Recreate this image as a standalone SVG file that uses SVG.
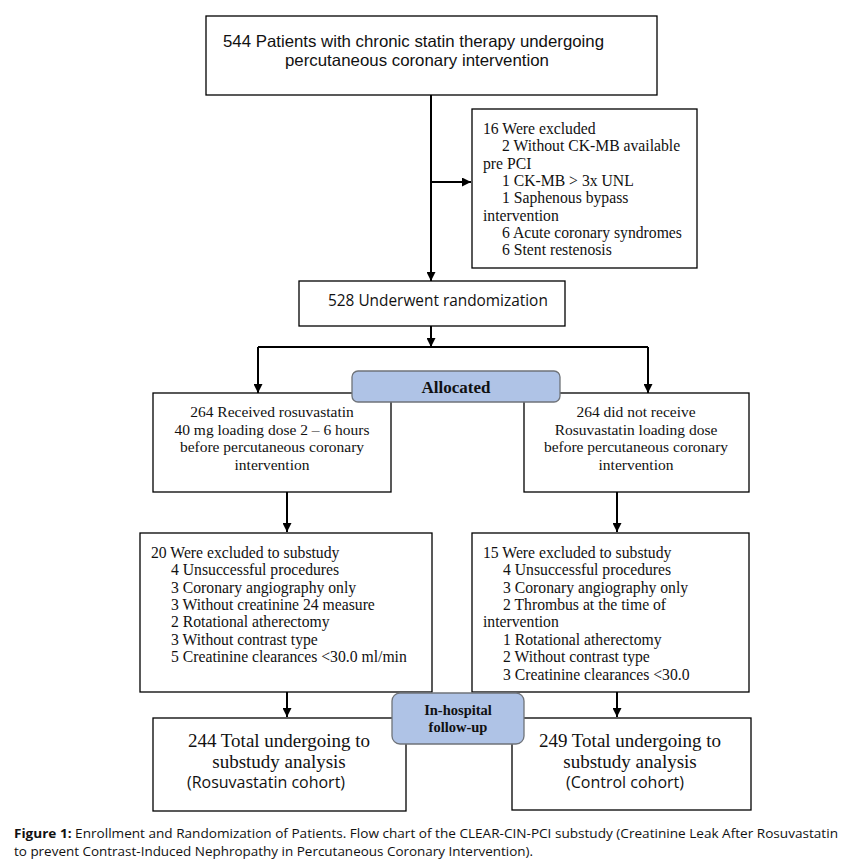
<svg xmlns="http://www.w3.org/2000/svg" width="851" height="863" viewBox="0 0 851 863">
<style>
.box{fill:#fff;stroke:#000;stroke-width:1.3}
.tag{fill:#afc3e6;stroke:#6f7379;stroke-width:1.3}
.ln{fill:none;stroke:#000;stroke-width:2}
.sans{font-family:"Open Sans","Liberation Sans",sans-serif;fill:#111}
.lsans{font-family:"Liberation Sans",Arial,sans-serif;fill:#111}
.serif{font-family:"Liberation Serif","DejaVu Serif",serif;fill:#111}
.b{font-weight:bold}
.cap{font-family:"Open Sans","Liberation Sans",sans-serif;font-size:13px;fill:#111}
</style>
<defs>
<marker id="ah" viewBox="0 0 10 10" refX="10" refY="5" markerWidth="4.5" markerHeight="4.5" orient="auto" markerUnits="strokeWidth">
<path d="M0,0 L10,5 L0,10 z" fill="#000"/>
</marker>
</defs>
<rect width="851" height="863" fill="#fff"/>
<g id="connectors">
<path class="ln" d="M431,95 V281" marker-end="url(#ah)"/>
<path class="ln" d="M431,182 H471" marker-end="url(#ah)"/>
<path class="ln" d="M431,326 V347" marker-end="url(#ah)"/>
<path class="ln" d="M258,347 H648"/>
<path class="ln" d="M258,347 V393" marker-end="url(#ah)"/>
<path class="ln" d="M648,347 V393" marker-end="url(#ah)"/>
<path class="ln" d="M287,492 V532" marker-end="url(#ah)"/>
<path class="ln" d="M617,492 V532" marker-end="url(#ah)"/>
<path class="ln" d="M287,692 V717" marker-end="url(#ah)"/>
<path class="ln" d="M617,692 V717" marker-end="url(#ah)"/>
</g>
<g id="n-enrolled">
<rect class="box" x="206" y="16" width="451" height="79"/>
<text class="lsans" font-size="16.5" x="223" y="47" textLength="381" lengthAdjust="spacingAndGlyphs">544 Patients with chronic statin therapy undergoing</text>
<text class="lsans" font-size="16.5" x="285" y="66" textLength="264" lengthAdjust="spacingAndGlyphs">percutaneous coronary intervention</text>
</g>
<g id="n-excluded" class="serif" font-size="15.7">
<rect class="box" x="472" y="109" width="225" height="159"/>
<text x="483" y="134">16 Were excluded</text>
<text x="502" y="151">2 Without CK-MB available</text>
<text x="483" y="169">pre PCI</text>
<text x="502" y="186">1 CK-MB &gt; 3x UNL</text>
<text x="502" y="203">1 Saphenous bypass</text>
<text x="483" y="221">intervention</text>
<text x="502" y="238">6 Acute coronary syndromes</text>
<text x="502" y="255">6 Stent restenosis</text>
</g>
<g id="n-random">
<rect class="box" x="299" y="281" width="266" height="45"/>
<text class="sans" font-size="15.4" x="328" y="306">528 Underwent randomization</text>
</g>
<g id="n-rosu">
<rect class="box" x="153" y="393" width="238" height="99"/>
<g class="serif" font-size="15.5" text-anchor="middle">
<text x="272" y="417">264 Received rosuvastatin</text>
<text x="272" y="435">40 mg loading dose 2 – 6 hours</text>
<text x="272" y="452">before percutaneous coronary</text>
<text x="272" y="470">intervention</text>
</g>
</g>
<g id="n-control">
<rect class="box" x="524" y="393" width="225" height="99"/>
<g class="serif" font-size="15.5" text-anchor="middle">
<text x="636" y="417">264 did not receive</text>
<text x="636" y="435">Rosuvastatin loading dose</text>
<text x="636" y="452">before percutaneous coronary</text>
<text x="636" y="470">intervention</text>
</g>
</g>
<g id="n-allocated">
<rect class="tag" x="352" y="371" width="208" height="31" rx="6"/>
<text class="serif b" font-size="17" x="456" y="393" text-anchor="middle">Allocated</text>
</g>
<g id="n-excl-left" class="serif" font-size="15.7">
<rect class="box" x="140" y="533" width="292" height="159"/>
<text x="151" y="558">20 Were excluded to substudy</text>
<text x="171" y="575">4 Unsuccessful procedures</text>
<text x="171" y="593">3 Coronary angiography only</text>
<text x="171" y="610">3 Without creatinine 24 measure</text>
<text x="171" y="627">2 Rotational atherectomy</text>
<text x="171" y="645">3 Without contrast type</text>
<text x="171" y="662">5 Creatinine clearances &lt;30.0 ml/min</text>
</g>
<g id="n-excl-right" class="serif" font-size="15.7">
<rect class="box" x="472" y="533" width="277" height="159"/>
<text x="483" y="558">15 Were excluded to substudy</text>
<text x="503" y="575">4 Unsuccessful procedures</text>
<text x="503" y="593">3 Coronary angiography only</text>
<text x="503" y="610">2 Thrombus at the time of</text>
<text x="483" y="627">intervention</text>
<text x="503" y="645">1 Rotational atherectomy</text>
<text x="503" y="662">2 Without contrast type</text>
<text x="503" y="680">3 Creatinine clearances &lt;30.0</text>
</g>
<g id="n-analysis-left">
<rect class="box" x="153" y="718" width="253" height="93"/>
<text class="serif" font-size="19" x="279" y="747" text-anchor="middle">244 Total undergoing to</text>
<text class="serif" font-size="19" x="279" y="768" text-anchor="middle">substudy analysis</text>
<text class="sans" font-size="16" x="266" y="788" text-anchor="middle">(Rosuvastatin cohort)</text>
</g>
<g id="n-analysis-right">
<rect class="box" x="512" y="718" width="239" height="92"/>
<text class="serif" font-size="19" x="630" y="747" text-anchor="middle">249 Total undergoing to</text>
<text class="serif" font-size="19" x="630" y="768" text-anchor="middle">substudy analysis</text>
<text class="sans" font-size="16" x="625" y="788" text-anchor="middle">(Control cohort)</text>
</g>
<g id="n-followup">
<rect class="tag" x="392" y="693" width="132" height="51" rx="8"/>
<text class="serif b" font-size="14.5" x="458" y="715" text-anchor="middle">In-hospital</text>
<text class="serif b" font-size="14.5" x="458" y="732" text-anchor="middle">follow-up</text>
</g>
<g id="caption">
<text class="cap" x="14" y="838" textLength="824" lengthAdjust="spacingAndGlyphs"><tspan font-weight="bold">Figure 1:</tspan> Enrollment and Randomization of Patients. Flow chart of the CLEAR-CIN-PCI substudy (Creatinine Leak After Rosuvastatin</text>
<text class="cap" x="14" y="856" textLength="519" lengthAdjust="spacingAndGlyphs">to prevent Contrast-Induced Nephropathy in Percutaneous Coronary Intervention).</text>
</g>
</svg>
